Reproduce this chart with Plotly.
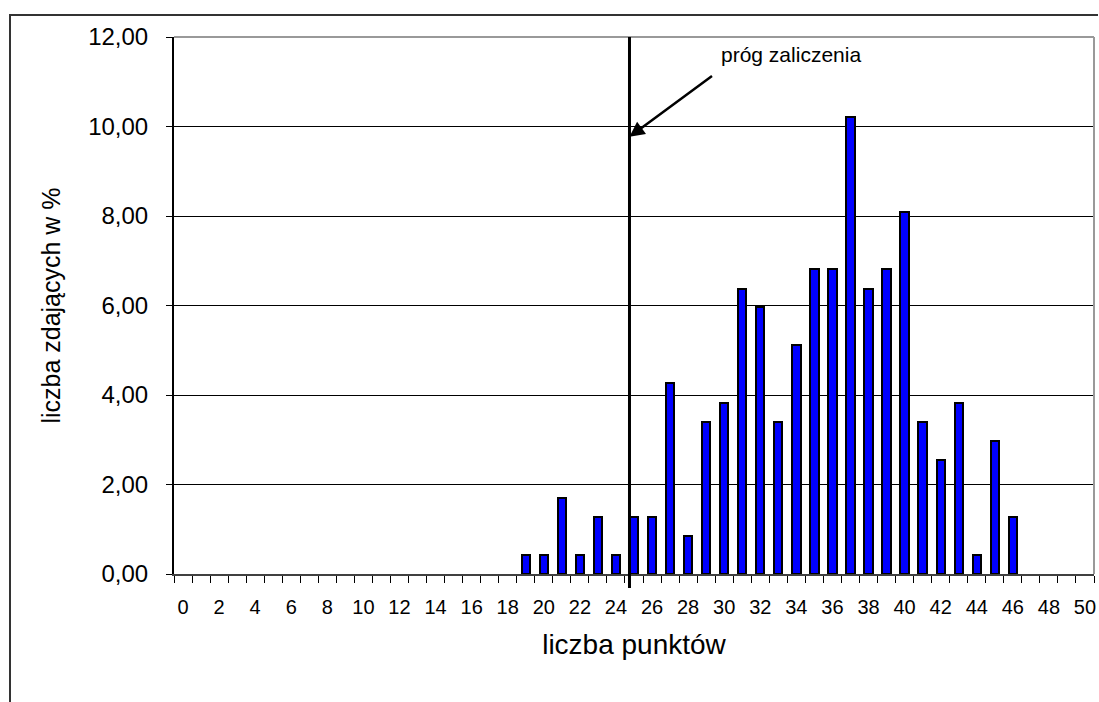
import plotly.graph_objects as go

# --- data ---
punkty = list(range(0, 51))
procent = [0, 0, 0, 0, 0, 0, 0, 0, 0, 0,
           0, 0, 0, 0, 0, 0, 0, 0, 0, 0.43,
           0.43, 1.70, 0.43, 1.28, 0.43, 1.28, 1.28, 4.26, 0.85, 3.40,
           3.83, 6.38, 5.96, 3.40, 5.11, 6.81, 6.81, 10.21, 6.38, 6.81,
           8.09, 3.40, 2.55, 3.83, 0.43, 2.98, 1.28, 0, 0, 0,
           0]
x_ticks = list(range(0, 51, 2))
y_ticks = [0, 2, 4, 6, 8, 10, 12]
prog = 24.75          # position of the pass-threshold line (x axis units)
prog_label = "próg zaliczenia"
arrow_y = 9.77

FONT = "Liberation Sans, Arial, sans-serif"

# plot area in pixels
L, R, T, B = 174, 1094, 37, 574
W, H = 1099, 702
PW, PH = R - L, B - T

def px(xpix):
    return (xpix - L) / PW

def py(ypix):
    return (B - ypix) / PH

fig = go.Figure()
fig.add_trace(go.Bar(
    x=punkty, y=procent, width=0.46,
    marker=dict(color="#0000FF",
                line=dict(color="black", width=[2 if v > 0 else 0 for v in procent])),
    showlegend=False,
))

fig.update_layout(
    width=W, height=H,
    margin=dict(l=L, r=W - R, t=T, b=H - B, autoexpand=False),
    paper_bgcolor="white", plot_bgcolor="white",
    separators=", ",
    font=dict(family=FONT, color="black"),
    bargap=0,
)

fig.update_xaxes(
    range=[-0.5, 50.5], automargin=False,
    tickmode="array", tickvals=x_ticks, ticktext=[str(v) for v in x_ticks],
    ticks="", tickfont=dict(size=20, family=FONT, color="black"),
    ticklabelstandoff=14,
    minor=dict(tickmode="linear", tick0=-0.5, dtick=1, ticks="outside",
               ticklen=7, tickwidth=1, tickcolor="black", showgrid=False),
    showline=True, linecolor="#404040", linewidth=2,
    showgrid=False, zeroline=False,
    title=dict(text="liczba punktów", font=dict(size=28, family=FONT, color="black"),
               standoff=17),
)
fig.update_yaxes(
    range=[0, 12], tickmode="array", tickvals=y_ticks, automargin=False,
    tickformat=".2f",
    ticks="outside", ticklen=6, tickcolor="black", tickwidth=1,
    tickfont=dict(size=24, family=FONT, color="black"),
    ticklabelstandoff=13,
    showline=True, linecolor="black", linewidth=2,
    showgrid=True, gridcolor="black", gridwidth=1,
    zeroline=False,
    title=dict(text="liczba zdających w %", font=dict(size=25, family=FONT, color="black"),
               standoff=20),
)

# plot-area border (top & right, gray)
fig.add_shape(type="line", xref="paper", yref="paper", x0=0, x1=1, y0=1, y1=1,
              line=dict(color="#999999", width=2))
fig.add_shape(type="line", xref="paper", yref="paper", x0=1, x1=1, y0=0, y1=1,
              line=dict(color="#999999", width=2))
# outer chart frame (left & top)
fig.add_shape(type="path", xref="paper", yref="paper",
              path=f"M {px(10)},{py(720)} L {px(10)},{py(15)} L {px(1098)},{py(15)}",
              line=dict(color="#333333", width=2))
# threshold line
fig.add_shape(type="line", xref="x", yref="paper", x0=prog, x1=prog, y0=py(588), y1=1,
              line=dict(color="black", width=3))

# arrow
fig.add_annotation(x=prog, y=arrow_y, xref="x", yref="y", text="",
                   showarrow=True, arrowhead=2, arrowsize=1.2, arrowwidth=2.5,
                   arrowcolor="black", ax=84, ay=-62, standoff=0)
fig.add_annotation(x=px(791), y=py(55), xref="paper", yref="paper", text=prog_label,
                   xanchor="center", yanchor="middle",
                   showarrow=False, font=dict(size=21, family=FONT, color="black"))

fig.write_html("out.html", config={"displayModeBar": False},
               post_script="document.body.style.margin='0';document.body.style.overflow='hidden';")
